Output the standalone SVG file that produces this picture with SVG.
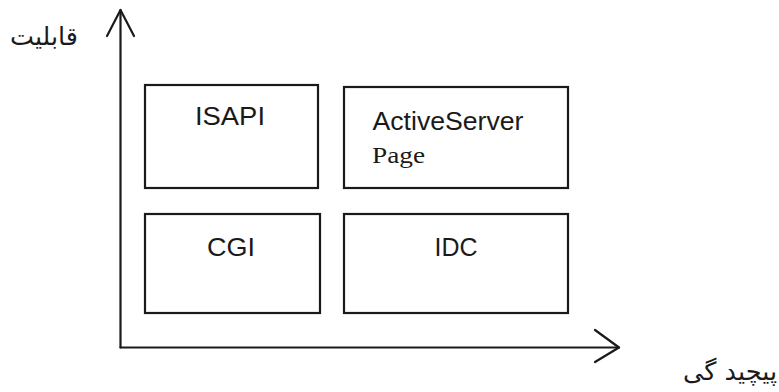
<svg xmlns="http://www.w3.org/2000/svg" width="779" height="392" viewBox="0 0 779 392">
<style>
.box{fill:#fff;stroke:#1a1a1a;stroke-width:2.2}
.lbl{font-family:"Liberation Sans",Arial,sans-serif;font-size:26px;fill:#1a1a1a;text-anchor:middle}
.ser{font-family:"Liberation Serif","Times New Roman",serif;font-size:23px;fill:#1a1a1a}
.fa{font-family:"DejaVu Sans","Noto Sans",sans-serif;font-size:25px;fill:#1a1a1a;text-anchor:middle}
.ax{fill:none;stroke:#1a1a1a;stroke-width:2.2;stroke-linecap:round;stroke-linejoin:round}
</style>
<rect width="779" height="392" fill="#fff"/>
<g id="connectors">
<path class="ax" d="M120.5 347.5 V10"/>
<path class="ax" d="M107 36 L120.5 10 L134 36"/>
<path class="ax" d="M120.5 347.5 H619"/>
<path class="ax" d="M595 330 L619 347.5 L595 362"/>
</g>
<g id="isapi">
<rect class="box" x="145" y="85" width="173" height="103"/>
<text class="lbl" x="230" y="125" textLength="70" lengthAdjust="spacingAndGlyphs">ISAPI</text>
</g>
<g id="asp">
<rect class="box" x="344" y="87" width="224" height="101"/>
<text class="lbl" x="448" y="130" textLength="151" lengthAdjust="spacingAndGlyphs">ActiveServer</text>
<text class="ser" x="372" y="163" textLength="53" lengthAdjust="spacingAndGlyphs">Page</text>
</g>
<g id="cgi">
<rect class="box" x="145" y="214" width="175" height="99"/>
<text class="lbl" x="231" y="256" textLength="48" lengthAdjust="spacingAndGlyphs">CGI</text>
</g>
<g id="idc">
<rect class="box" x="344" y="214" width="224" height="99"/>
<text class="lbl" x="456" y="256" textLength="43" lengthAdjust="spacingAndGlyphs">IDC</text>
</g>
<g id="ylabel">
<text class="fa" x="44" y="45" textLength="68" lengthAdjust="spacingAndGlyphs">قابلیت</text>
</g>
<g id="xlabel">
<text class="fa" x="730" y="380" textLength="94" lengthAdjust="spacingAndGlyphs">پیچید گی</text>
</g>
</svg>
